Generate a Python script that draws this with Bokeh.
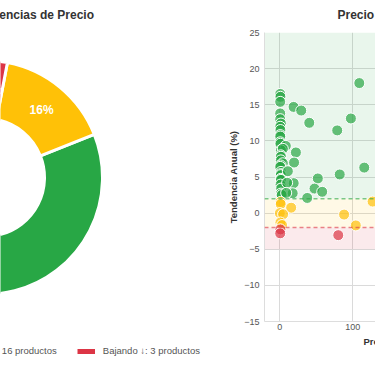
import math
from bokeh.plotting import figure
from bokeh.layouts import row, column
from bokeh.models import (Range1d, Legend, LegendItem, BoxAnnotation, Span,
                          FixedTicker, Title)
from bokeh.core.properties import value
from bokeh.embed import file_html
from bokeh.resources import INLINE

FONT = "Liberation Sans"

# ---------------- data ----------------
categories = ["Subiendo ↑", "Estable →", "Bajando ↓"]
counts = [81, 16, 3]
colors = ["#28a745", "#ffc107", "#dc3545"]

subiendo_x = [0.5, 0.8, 0.5, 0.5, 0.5, 1.5, 0.5, 0.8, 0.5, 0.6, 0.5, 0.8, 8.2, 1.5,
              4.1, 1.2, 1.5, 1.4, 4.1, 1.0, 0.5, 1.6, 1.2, 1.3, 1.5, 1.5, 1.0, 1.8,
              1.6, 2.5, 108.8, 18.8, 29.3, 40.3, 78.6, 97.3, 115.6, 22.0, 19.5, 11.0,
              52.0, 82.0, 19.0, 10.0, 47.5, 58.0, 17.6, 8.7, 37.5]
subiendo_y = [16.5, 16.1, 15.4, 13.8, 13.0, 12.4, 11.95, 11.5, 10.8, 10.6, 9.8, 9.6, 9.3, 8.7,
              8.9, 8.0, 7.8, 7.3, 6.9, 6.6, 6.4, 5.7, 5.4, 5.26, 4.75, 4.6, 3.95, 3.4,
              2.7, 2.5, 18.0, 14.7, 14.2, 12.5, 11.45, 13.1, 6.3, 8.4, 7.0, 5.8,
              4.8, 5.35, 4.15, 4.2, 3.4, 2.95, 2.75, 2.8, 2.1]
estable_x = [1.0, 1.2, 15.5, 0.0, 4.5, 88.0, 0.8, 3.0, 104.0, 127.0]
estable_y = [1.55, 1.25, 0.75, 0.0, -0.15, -0.2, -1.3, -1.65, -1.7, 1.6]
bajando_x = [0.8, 0.5, 80.0]
bajando_y = [-2.25, -2.8, -3.05]

y_ticks = [-15, -10, -5, 0, 5, 10, 15, 20, 25]
x_ticks = [0, 100, 200]
umbral_subida = 2
umbral_bajada = -2
limite_rojo = -5

TOP, BOTTOM = 32, 45
FRAME_H = 366 - TOP - BOTTOM
STRIP_H = 20


def style_title(t, text, offset):
    t.text = text
    t.align = "left"
    t.offset = offset
    t.vertical_align = "top"
    t.standoff = 15.5
    t.text_font = FONT
    t.text_font_size = "12px"
    t.text_font_style = "bold"
    t.text_color = "#333333"


# ---------------- donut ----------------
cy = 177 - TOP
left = figure(width=220, height=366, x_range=Range1d(15, 235),
              y_range=Range1d(cy - FRAME_H, cy),
              x_axis_type=None, y_axis_type=None, output_backend="svg",
              toolbar_location=None, min_border_left=0, min_border_right=0,
              min_border_bottom=BOTTOM, min_border_top=TOP)
left.outline_line_color = None
left.grid.visible = False
style_title(left.title, "Tendencias de Precio", -29)

total = sum(counts)
starts, ends, lx, ly, pct = [], [], [], [], []
acc = 0.0
r_in, r_out = 59, 117
for n in counts:
    a0 = math.pi / 2 + 2 * math.pi * acc / total
    a1 = math.pi / 2 + 2 * math.pi * (acc + n) / total
    starts.append(a0)
    ends.append(a1)
    mid = (a0 + a1) / 2
    rm = (r_in + r_out) / 2
    lx.append(rm * math.cos(mid))
    ly.append(rm * math.sin(mid))
    pct.append(f"{round(100 * n / total)}%")
    acc += n

left.annular_wedge(x=0, y=0, inner_radius=r_in, outer_radius=r_out,
                   start_angle=starts, end_angle=ends, direction="anticlock",
                   fill_color=colors, line_color="white", line_width=3)
left.text(x=lx, y=ly, text=pct, text_color="white", text_font=value(FONT),
          text_font_size="12px", text_font_style="bold",
          text_align="center", text_baseline="middle")

# ---------------- legend strip (overlaid on the bottom of the row) ----------------
strip = figure(width=220, height=STRIP_H, x_range=Range1d(0, 1), y_range=Range1d(0, 1),
               x_axis_type=None, y_axis_type=None, output_backend="svg",
               toolbar_location=None, min_border=0, min_border_left=0, min_border_right=0,
               min_border_top=0, min_border_bottom=0, margin=(-STRIP_H, 0, 0, 0))
strip.outline_line_color = None
strip.grid.visible = False
strip.background_fill_alpha = 0
strip.border_fill_alpha = 0
items = []
for cat, n, c in zip(categories, counts, colors):
    # a single NaN point: nothing is drawn in the strip, but the legend swatch is
    r = strip.line(x=[float("nan")], y=[float("nan")], line_color=c, line_width=5)
    items.append(LegendItem(label=f"{cat}: {n} productos", renderers=[r]))
legend = Legend(items=items, orientation="horizontal", location=(-227, 10),
                glyph_width=18, glyph_height=10, label_height=10, label_standoff=8,
                spacing=20, padding=0, margin=0, border_line_color=None,
                background_fill_alpha=0, label_text_font=FONT,
                label_text_font_size="9.5px", label_text_color="#555555")
strip.add_layout(legend)

# ---------------- scatter ----------------
right = figure(width=155, height=366, x_range=Range1d(-21, 131), y_range=Range1d(-15, 25),
               output_backend="svg", toolbar_location=None,
               min_border_left=44, min_border_right=0, min_border_top=TOP,
               min_border_bottom=BOTTOM)
right.outline_line_color = None
style_title(right.title, "Precio vs Tendencia", 73)

for lo, hi, c in [(umbral_subida, y_ticks[-1], colors[0]),
                  (umbral_bajada, umbral_subida, colors[1]),
                  (limite_rojo, umbral_bajada, colors[2])]:
    right.add_layout(BoxAnnotation(bottom=lo, top=hi, fill_color=c, fill_alpha=0.1,
                                   line_color=None, level="underlay"))
right.add_layout(Span(location=umbral_subida, dimension="width", line_color=colors[0],
                      line_alpha=0.6, line_dash="4 3", line_width=1.5))
right.add_layout(Span(location=umbral_bajada, dimension="width", line_color=colors[2],
                      line_alpha=0.6, line_dash="4 3", line_width=1.5))

for xs, ys, c in [(subiendo_x, subiendo_y, colors[0]),
                  (estable_x, estable_y, colors[1]),
                  (bajando_x, bajando_y, colors[2])]:
    right.scatter(xs, ys, size=11, fill_color=c, fill_alpha=0.7,
                  line_color="white", line_width=1)

right.yaxis.ticker = FixedTicker(ticks=y_ticks)
right.xaxis.ticker = FixedTicker(ticks=x_ticks)
right.yaxis.major_label_overrides = {t: str(t).replace("-", "\u2212") for t in y_ticks}
right.yaxis.axis_label = "Tendencia Anual (%)"
for ax in right.axis:
    ax.major_tick_line_color = None
    ax.minor_tick_line_color = None
    ax.major_tick_out = 0
    ax.major_tick_in = 0
    ax.minor_tick_out = 0
    ax.minor_tick_in = 0
    ax.axis_line_color = "#dddddd"
    ax.major_label_text_font = FONT
    ax.major_label_text_font_size = "9px"
    ax.major_label_text_color = "#555555"
    ax.axis_label_text_font = FONT
    ax.axis_label_text_font_size = "9.5px"
    ax.axis_label_text_font_style = "bold"
    ax.axis_label_text_color = "#333333"
    ax.axis_label_standoff = 2
right.yaxis.major_label_standoff = 5
right.xaxis.major_label_standoff = 2
right.grid.grid_line_color = "#dadada"

right.add_layout(Title(text="Precio Actual (€)", align="left", offset=99, vertical_align="top",
                       standoff=6, text_font=FONT, text_font_size="9.5px",
                       text_font_style="bold", text_color="#333333"), "below")

layout = column(row(left, right), strip)
open("out.html", "w").write(file_html(layout, INLINE))
